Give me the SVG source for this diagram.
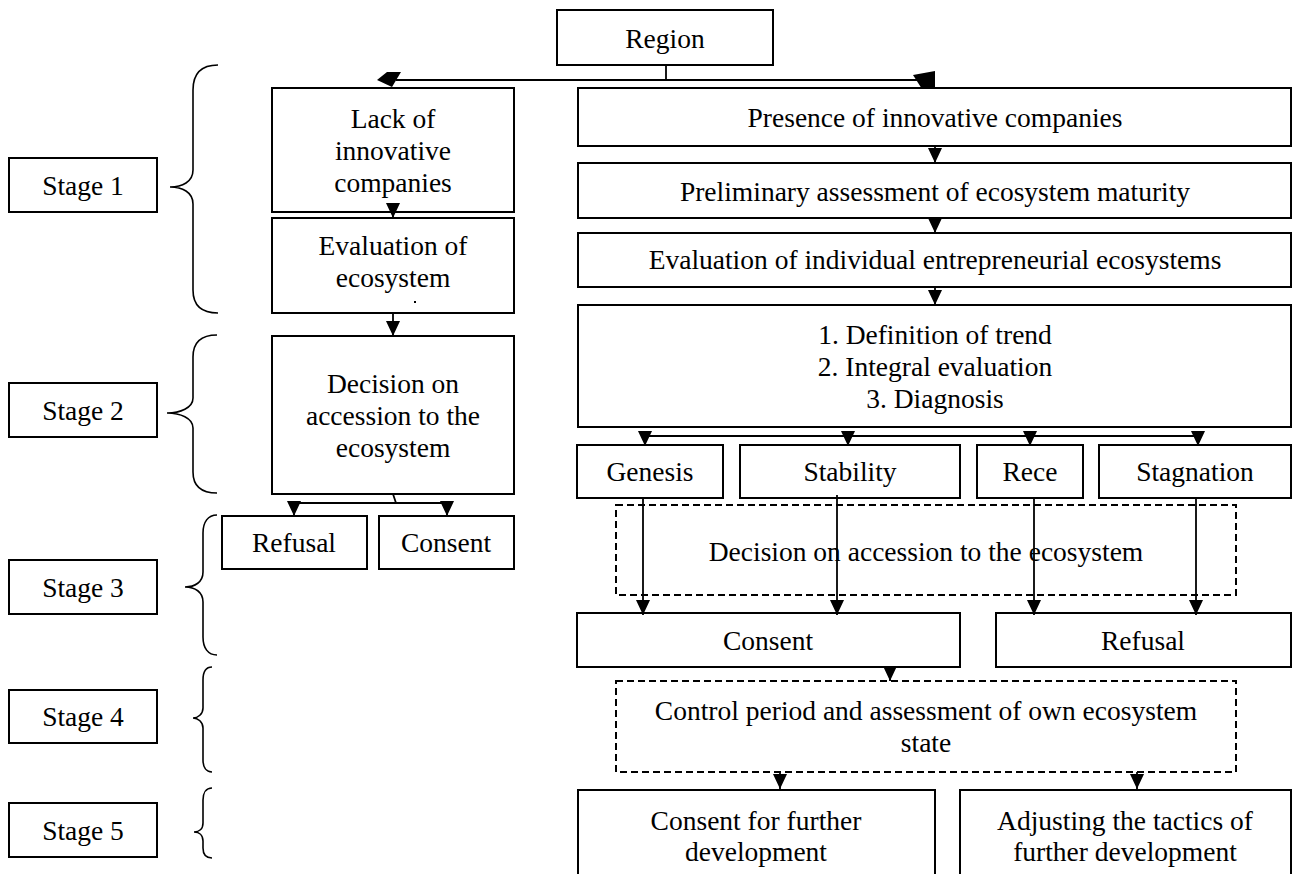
<svg xmlns="http://www.w3.org/2000/svg" width="1293" height="874" viewBox="0 0 1293 874">
<style>
.box{fill:#fff;stroke:#000;stroke-width:2}
.dash{fill:none;stroke:#000;stroke-width:2;stroke-dasharray:7 4}
.brace{fill:none;stroke:#000;stroke-width:1.6}
.t{font-family:"Liberation Serif","Times New Roman",serif;font-size:27.5px;fill:#000;text-anchor:middle}
.c{fill:none;stroke:#000;stroke-width:1.8}
.ah{fill:#000;stroke:none}
</style>
<defs>
<marker id="arr" markerUnits="userSpaceOnUse" markerWidth="15" markerHeight="14" viewBox="0 0 15 14" refX="15" refY="7" orient="auto">
<path d="M0,0 L15,7 L0,14 z" fill="#000"/>
</marker>
</defs>
<rect width="1293" height="874" fill="#fff"/>

<g id="stages">
<g id="stage1"><rect class="box" x="9" y="158" width="148" height="54"/><text class="t" x="83" y="195">Stage 1</text></g>
<g id="stage2"><rect class="box" x="9" y="383" width="148" height="54"/><text class="t" x="83" y="420">Stage 2</text></g>
<g id="stage3"><rect class="box" x="9" y="560" width="148" height="54"/><text class="t" x="83" y="597">Stage 3</text></g>
<g id="stage4"><rect class="box" x="9" y="690" width="148" height="53"/><text class="t" x="83" y="726">Stage 4</text></g>
<g id="stage5"><rect class="box" x="9" y="803" width="148" height="54"/><text class="t" x="83" y="840">Stage 5</text></g>
</g>

<g id="braces">
<path class="brace" d="M218,65 C201,65 193,74 193,90 L193,170 C193,182 182,187 170,187 C182,187 193,192 193,204 L193,290 C193,305 201,313 218,313"/>
<path class="brace" d="M217,335 C201,335 193,343 193,357 L193,398 C193,408 180,413 167,413 C180,413 193,418 193,428 L193,472 C193,486 201,493 217,493"/>
<path class="brace" d="M217,515 C208,515 203,522 203,533 L203,572 C203,582 195,587 185,587 C195,587 203,592 203,602 L203,637 C203,648 208,655 217,655"/>
<path class="brace" d="M212,667 C206,667 203,672 203,680 L203,708 C203,714 198,718 193,718 C198,718 203,722 203,728 L203,760 C203,767 206,772 212,772"/>
<path class="brace" d="M212,788 C206,788 203,793 203,800 L203,823 C203,829 199,832 194,832 C199,832 203,835 203,841 L203,848 C203,854 206,858 212,858"/>
</g>

<g id="region"><rect class="box" x="557" y="10" width="216" height="55"/><text class="t" x="665" y="48">Region</text></g>

<g id="lack"><rect class="box" x="272" y="88" width="242" height="124"/>
<text class="t" x="393" y="128">Lack of</text><text class="t" x="393" y="160">innovative</text><text class="t" x="393" y="192">companies</text></g>
<g id="evaluation-ecosystem"><rect class="box" x="272" y="218" width="242" height="95"/>
<text class="t" x="393" y="255">Evaluation of</text><text class="t" x="393" y="287">ecosystem</text>
<rect x="414" y="301" width="2" height="2" fill="#000"/></g>
<g id="decision-left"><rect class="box" x="272" y="336" width="242" height="158"/>
<text class="t" x="393" y="393">Decision on</text><text class="t" x="393" y="425">accession to the</text><text class="t" x="393" y="457">ecosystem</text></g>
<g id="refusal-left"><rect class="box" x="222" y="516" width="145" height="53"/><text class="t" x="294" y="552">Refusal</text></g>
<g id="consent-left"><rect class="box" x="379" y="516" width="135" height="53"/><text class="t" x="446" y="552">Consent</text></g>

<g id="presence"><rect class="box" x="578" y="88" width="713" height="58"/><text class="t" x="935" y="127">Presence of innovative companies</text></g>
<g id="preliminary"><rect class="box" x="578" y="163" width="713" height="55"/><text class="t" x="935" y="201">Preliminary assessment of ecosystem maturity</text></g>
<g id="evaluation-individual"><rect class="box" x="578" y="233" width="713" height="54"/><text class="t" x="935" y="269">Evaluation of individual entrepreneurial ecosystems</text></g>
<g id="definition"><rect class="box" x="578" y="305" width="713" height="122"/>
<text class="t" x="935" y="344">1. Definition of trend</text><text class="t" x="935" y="376">2. Integral evaluation</text><text class="t" x="935" y="408">3. Diagnosis</text></g>

<g id="genesis"><rect class="box" x="577" y="445" width="146" height="53"/><text class="t" x="650" y="481">Genesis</text></g>
<g id="stability"><rect class="box" x="740" y="445" width="220" height="53"/><text class="t" x="850" y="481">Stability</text></g>
<g id="rece"><rect class="box" x="977" y="445" width="106" height="53"/><text class="t" x="1030" y="481">Rece</text></g>
<g id="stagnation"><rect class="box" x="1099" y="445" width="192" height="53"/><text class="t" x="1195" y="481">Stagnation</text></g>

<g id="decision-right"><rect class="dash" x="616" y="505" width="620" height="90"/><text class="t" x="926" y="561">Decision on accession to the ecosystem</text></g>

<g id="consent-right"><rect class="box" x="577" y="613" width="383" height="54"/><text class="t" x="768" y="650">Consent</text></g>
<g id="refusal-right"><rect class="box" x="996" y="613" width="295" height="54"/><text class="t" x="1143" y="650">Refusal</text></g>

<g id="control"><rect class="dash" x="616" y="681" width="620" height="91"/>
<text class="t" x="926" y="720">Control period and assessment of own ecosystem</text><text class="t" x="926" y="752">state</text></g>

<g id="consent-further"><rect class="box" x="578" y="790" width="357" height="100"/>
<text class="t" x="756" y="830">Consent for further</text><text class="t" x="756" y="861">development</text></g>
<g id="adjusting"><rect class="box" x="960" y="790" width="331" height="100"/>
<text class="t" x="1125" y="830">Adjusting the tactics of</text><text class="t" x="1125" y="861">further development</text></g>

<g id="connectors">
<path class="c" d="M666,65 V80 M396,80 H930"/>
<polygon class="ah" points="377,80 387,72 401,72 392,87"/>
<polygon class="ah" points="913,75 935,71 935,87 922,89"/>
<path class="c" d="M393,204 V218" marker-end="url(#arr)"/>
<path class="c" d="M393,313 V336" marker-end="url(#arr)"/>
<path class="c" d="M393,494 L396,503 M294,503 H447"/>
<path class="c" d="M294,503 V516" marker-end="url(#arr)"/>
<path class="c" d="M447,503 V516" marker-end="url(#arr)"/>
<path class="c" d="M935,146 V163" marker-end="url(#arr)"/>
<path class="c" d="M935,218 V233" marker-end="url(#arr)"/>
<path class="c" d="M935,287 V305" marker-end="url(#arr)"/>
<path class="c" d="M645,436 H1198"/>
<path class="c" d="M645,436 V446" marker-end="url(#arr)"/>
<path class="c" d="M848,436 V446" marker-end="url(#arr)"/>
<path class="c" d="M1030,436 V446" marker-end="url(#arr)"/>
<path class="c" d="M1198,436 V446" marker-end="url(#arr)"/>
<path class="c" d="M643,498 V615" marker-end="url(#arr)"/>
<path class="c" d="M837,495 V615" marker-end="url(#arr)"/>
<path class="c" d="M1034,498 V615" marker-end="url(#arr)"/>
<path class="c" d="M1196,498 V615" marker-end="url(#arr)"/>
<path class="c" d="M890,667 V681" marker-end="url(#arr)"/>
<path class="c" d="M780,772 V789" marker-end="url(#arr)"/>
<path class="c" d="M1137,772 V789" marker-end="url(#arr)"/>
</g>
</svg>
